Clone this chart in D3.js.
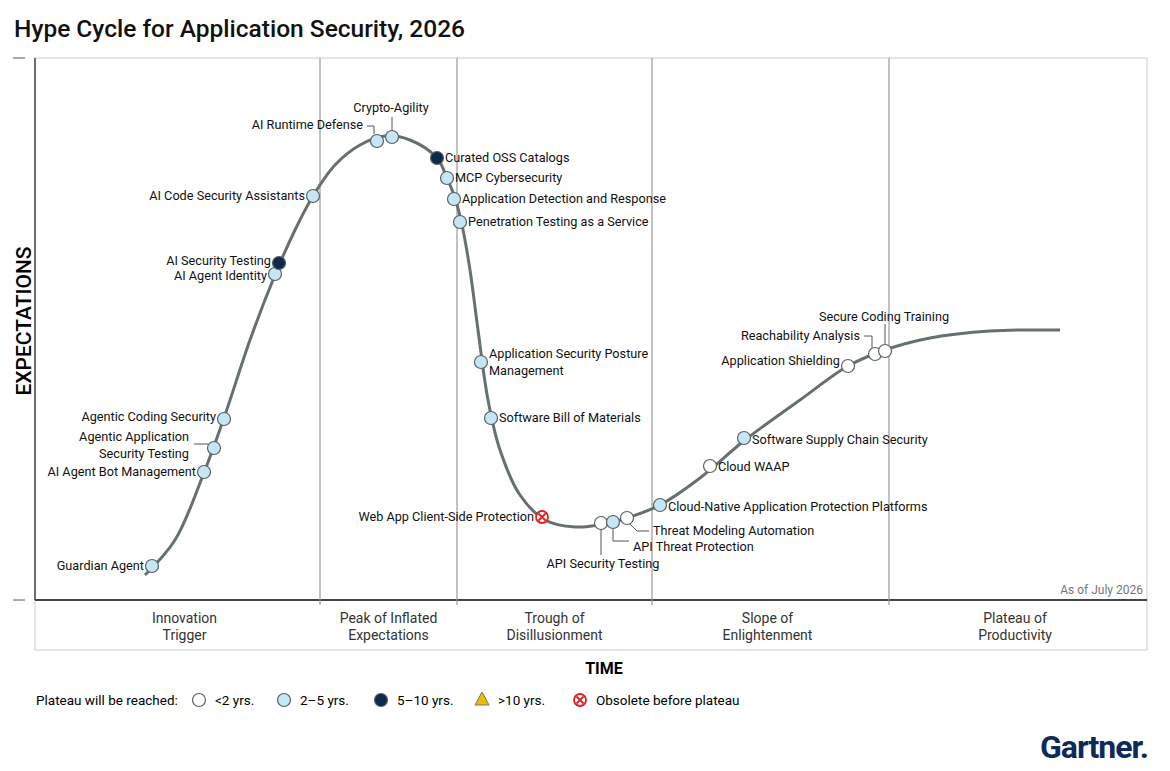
<!DOCTYPE html>
<html><head><meta charset="utf-8">
<script src="https://cdn.jsdelivr.net/npm/d3@7"></script>
<style>
body{margin:0;background:#fff;font-family:Roboto,"Liberation Sans",sans-serif;}
text{font-family:Roboto,"Liberation Sans",sans-serif;}
</style></head><body>
<svg id="chart" width="1170" height="771"></svg>
<script>
// curve: time units (0-1112) vs expectation units (0-542)
var curveT = [110,140,170,190,215,240,260,278,300,325,350,375,402,412,420,427,435,443,453,465,485,510,540,570,595,625,665,710,765,813,850,895,955,1025];
var curveE = [25,60,130,185,260,325,370,404,435,455,464,460,442,422,402,375,330,270,200,150,105,80,73,76,83,95,122,160,200,234,250,262,269,270];

var techNames = ['Guardian Agent','AI Agent Bot Management','Agentic Application\nSecurity Testing','Agentic Coding Security','AI Agent Identity','AI Security Testing','AI Code Security Assistants','AI Runtime Defense','Crypto-Agility','Curated OSS Catalogs','MCP Cybersecurity','Application Detection and Response','Penetration Testing as a Service','Application Security Posture\nManagement','Software Bill of Materials','Web App Client-Side Protection','API Security Testing','API Threat Protection','Threat Modeling Automation','Cloud-Native Application Protection Platforms','Cloud WAAP','Software Supply Chain Security','Application Shielding','Reachability Analysis','Secure Coding Training'];
var techT = [117,169,179,189,240,244,278,342,357,402,412,419,425,446,456,507,566,578,592,625,675,709,813,840,850];
var techE = [34,128,152,181,326,337,404,459,463,442,422,401,378,238,182,83,77,78,82,95,134,162,234,246,249];
var techCat = ['b','b','b','b','b','d','b','b','b','d','b','b','b','b','b','x','w','b','w','b','w','b','w','w','w'];

var phases = ['Innovation\nTrigger','Peak of Inflated\nExpectations','Trough of\nDisillusionment','Slope of\nEnlightenment','Plateau of\nProductivity'];
var phaseEnds = [285,422,617,854,1112];

var legendLabels = ['<2 yrs.','2\u20135 yrs.','5\u201310 yrs.','>10 yrs.','Obsolete before plateau'];
var legendCats = ['w','b','d','t','x'];

var svg = d3.select('#chart');
var pLeft = 35, pRight = 1147, pTop = 58, pBottom = 600;
var x = d3.scaleLinear().domain([0,1112]).range([pLeft,pRight]);
var y = d3.scaleLinear().domain([0,542]).range([pBottom,pTop]);

svg.append('text').attr('x',14).attr('y',37).text('Hype Cycle for Application Security, 2026')
  .attr('font-size','24.5px').attr('font-weight','500').attr('fill','#111');

// frame
svg.append('rect').attr('x',pLeft).attr('y',pTop).attr('width',pRight-pLeft).attr('height',592)
  .attr('fill','none').attr('stroke','#ddd').attr('stroke-width',1.5);
svg.append('line').attr('x1',pLeft).attr('x2',pLeft).attr('y1',pTop).attr('y2',pBottom).attr('stroke','#444').attr('stroke-width',1.5);
svg.append('line').attr('x1',pLeft).attr('x2',pRight).attr('y1',pBottom).attr('y2',pBottom).attr('stroke','#444').attr('stroke-width',2);
[pTop,pBottom].forEach(function(v){
  svg.append('line').attr('x1',13).attr('x2',25).attr('y1',v).attr('y2',v).attr('stroke','#555');
});

// phase dividers and labels
var prev = 0;
phases.forEach(function(p,i){
  var e = phaseEnds[i];
  if(i < phases.length-1){
    svg.append('line').attr('x1',x(e)).attr('x2',x(e)).attr('y1',pTop).attr('y2',pBottom+5).attr('stroke','#999').attr('stroke-width',1.2);
  }
  var cx = x((prev+e)/2);
  if(i === 0) cx += 7;
  if(i === 3) cx -= 3;
  if(i === 4) cx -= 3;
  var t = svg.append('text').attr('x',cx).attr('y',623).attr('text-anchor','middle')
    .attr('font-size','14px').attr('fill','#333');
  p.split('\n').forEach(function(s,j){ t.append('tspan').attr('x',cx).attr('dy',j?17:0).text(s); });
  prev = e;
});

svg.append('text').attr('x',1143).attr('y',594).attr('text-anchor','end').attr('font-size','12px').attr('fill','#777').text('As of July 2026');
svg.append('text').attr('transform','translate(31,321) rotate(-90)').attr('text-anchor','middle')
  .attr('font-size','21px').attr('font-weight','500').text('EXPECTATIONS');
svg.append('text').attr('x',604).attr('y',674).attr('text-anchor','middle').attr('font-size','16px').attr('font-weight','bold').text('TIME');

// curve
var pts = curveT.map(function(t,i){ return [t, curveE[i]]; });
svg.append('path').datum(pts)
  .attr('d', d3.line().x(function(d){return x(d[0]);}).y(function(d){return y(d[1]);}).curve(d3.curveCatmullRom))
  .attr('fill','none').attr('stroke','#667070').attr('stroke-width',3);

function marker(g, cat, cx, cy){
  if(cat === 'x'){
    g.append('circle').attr('cx',cx).attr('cy',cy).attr('r',6).attr('fill','#fff').attr('stroke','#e02020').attr('stroke-width',1.8);
    g.append('path').attr('d','M'+(cx-3.5)+','+(cy-3.5)+'L'+(cx+3.5)+','+(cy+3.5)+'M'+(cx+3.5)+','+(cy-3.5)+'L'+(cx-3.5)+','+(cy+3.5))
      .attr('stroke','#e02020').attr('stroke-width',1.8);
  } else if(cat === 't'){
    g.append('path').attr('d','M'+cx+','+(cy-8)+'L'+(cx+7)+','+(cy+5)+'L'+(cx-7)+','+(cy+5)+'Z').attr('fill','#f5b800').attr('stroke','#777');
  } else {
    var fill = {w:'#fff', b:'#c7e6f5', d:'#0d2a4d'}[cat];
    g.append('circle').attr('cx',cx).attr('cy',cy).attr('r',6.5).attr('fill',fill).attr('stroke','#5a6262').attr('stroke-width',1.2);
  }
}

// label placement (offsets from marker, anchor, optional leader line)
var labelPos = {
  'Guardian Agent':[-8,4,'end'],
  'AI Agent Bot Management':[-8,4,'end'],
  'Agentic Application\nSecurity Testing':[-25,-7,'end',[[-6,-4],[-20,-4]]],
  'Agentic Coding Security':[-8,2,'end'],
  'AI Agent Identity':[-8,6,'end'],
  'AI Security Testing':[-8,2,'end'],
  'AI Code Security Assistants':[-8,4,'end'],
  'AI Runtime Defense':[-14,-12,'end',[[-3,-7],[-3,-15],[-10,-15]]],
  'Crypto-Agility':[-1,-25,'middle',[[0,-7],[0,-20]]],
  'Curated OSS Catalogs':[8,4,'start'],
  'MCP Cybersecurity':[8,4,'start'],
  'Application Detection and Response':[8,4,'start'],
  'Penetration Testing as a Service':[8,4,'start'],
  'Application Security Posture\nManagement':[8,-4,'start'],
  'Software Bill of Materials':[8,4,'start'],
  'Web App Client-Side Protection':[-8,4,'end'],
  'API Security Testing':[2,45,'middle',[[0,6],[0,32]]],
  'API Threat Protection':[20,29,'start',[[0,6],[0,19],[16,19]]],
  'Threat Modeling Automation':[26,17,'start',[[2,5],[10,13],[22,13]]],
  'Cloud-Native Application Protection Platforms':[8,6,'start'],
  'Cloud WAAP':[8,5,'start'],
  'Software Supply Chain Security':[8,6,'start'],
  'Application Shielding':[-8,-1,'end'],
  'Reachability Analysis':[-15,-14,'end',[[-3,-6],[-3,-18],[-11,-18]]],
  'Secure Coding Training':[-1,-30,'middle',[[0,-7],[0,-27]]]
};

var g = svg.append('g');
techNames.forEach(function(n,i){
  var cx = x(techT[i]), cy = y(techE[i]);
  var lp = labelPos[n];
  if(lp[3]){
    g.append('path').attr('d', d3.line()(lp[3].map(function(p){return [cx+p[0], cy+p[1]];})))
      .attr('fill','none').attr('stroke','#555').attr('stroke-width',1);
  }
  var t = g.append('text').attr('x',cx+lp[0]).attr('y',cy+lp[1]).attr('text-anchor',lp[2]).attr('font-size','12.7px').attr('fill','#111');
  n.split('\n').forEach(function(s,j){ t.append('tspan').attr('x',cx+lp[0]).attr('dy',j?17:0).text(s); });
});
techNames.forEach(function(n,i){ marker(g, techCat[i], x(techT[i]), y(techE[i])); });

// legend
var lg = svg.append('g');
lg.append('text').attr('x',36).attr('y',705).attr('font-size','13.5px').text('Plateau will be reached:');
var lx = [199,284,381,482,580];
legendLabels.forEach(function(l,i){
  marker(lg, legendCats[i], lx[i], 700);
  lg.append('text').attr('x',lx[i]+16).attr('y',705).attr('font-size','13.5px').text(l);
});

svg.append('text').attr('x',1148).attr('y',758).attr('text-anchor','end').attr('font-size','32px')
  .attr('font-weight','bold').attr('fill','#0d2a5a').attr('letter-spacing','-1').text('Gartner.');
</script></body></html>
